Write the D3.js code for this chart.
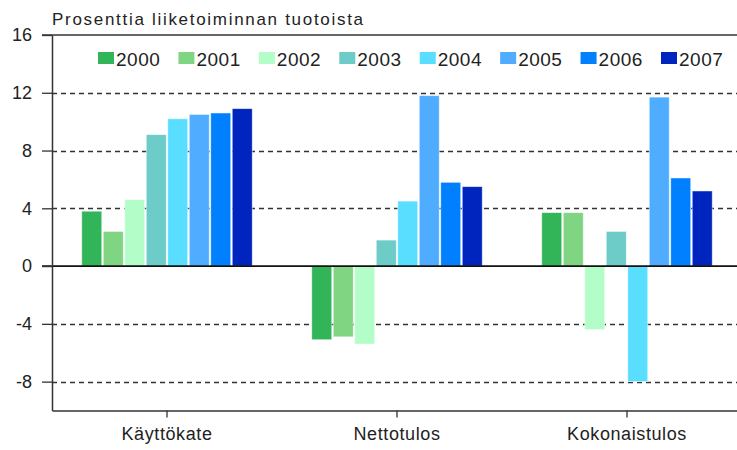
<!DOCTYPE html>
<html>
<head>
<meta charset="utf-8">
<script src="https://cdn.jsdelivr.net/npm/d3@7"></script>
<style>
  body { margin: 0; background: #fff; }
  text { font-family: "Liberation Sans", Arial, sans-serif; fill: #222; }
</style>
</head>
<body>
<svg id="chart" width="737" height="450"></svg>
<script>
// data
var categories = ["Käyttökate", "Nettotulos", "Kokonaistulos"];
var years = ["2000", "2001", "2002", "2003", "2004", "2005", "2006", "2007"];
var kayttokate = [3.8, 2.4, 4.6, 9.1, 10.2, 10.5, 10.6, 10.9];
var nettotulos = [-5.1, -4.9, -5.4, 1.8, 4.5, 11.8, 5.8, 5.5];
var kokonaistulos = [3.7, 3.7, -4.4, 2.4, -8.0, 11.7, 6.1, 5.2];
var yTicks = [-8, -4, 0, 4, 8, 12, 16];
var colors = ["#32b458", "#80d582", "#b3fdc9", "#6dcbc8", "#5adeff", "#50acff", "#0080ff", "#0024be"];
var titleText = "Prosenttia liiketoiminnan tuotoista";

var series = [kayttokate, nettotulos, kokonaistulos];

var svg = d3.select("#chart");
var plotLeft = 52, plotTop = 35, plotBottom = 410.5, plotRight = 742;

var y = d3.scaleLinear().domain([-10, 16]).range([plotBottom, plotTop]);
var x0 = d3.scaleBand().domain(categories).range([plotLeft, plotRight]);
var x1 = d3.scaleBand().domain(years).range([0, x0.bandwidth()])
			.paddingInner(0.07).paddingOuter(1.385);
var color = d3.scaleOrdinal().domain(years).range(colors);

// dashed grid lines
svg.append("g").selectAll("line")
	.data(yTicks.filter(function(d){ return d != 0 && d != 16; }))
	.enter().append("line")
	.attr("x1", plotLeft).attr("x2", 737)
	.attr("y1", function(d){ return Math.round(y(d)) + 0.5; })
	.attr("y2", function(d){ return Math.round(y(d)) + 0.5; })
	.attr("stroke", "#333")
	.attr("stroke-width", 1.3)
	.attr("stroke-dasharray", "5,4");

// top border
svg.append("line")
	.attr("x1", plotLeft - 10).attr("x2", 737)
	.attr("y1", y(16)).attr("y2", y(16))
	.attr("stroke", "#333").attr("stroke-width", 1.5);

// bars
var groups = svg.append("g").selectAll("g")
	.data(categories)
	.enter().append("g")
	.attr("transform", function(d){ return "translate(" + x0(d) + ",0)"; });

groups.selectAll("rect")
	.data(function(d, i){
		return years.map(function(yr, j){ return {year: yr, value: series[i][j]}; });
	})
	.enter().append("rect")
	.attr("x", function(d){ return x1(d.year); })
	.attr("width", x1.bandwidth())
	.attr("y", function(d){ return y(Math.max(0, d.value)); })
	.attr("height", function(d){ return Math.abs(y(d.value) - y(0)); })
	.attr("fill", function(d){ return color(d.year); })
	.attr("stroke", "rgba(255,255,255,0.6)")
	.attr("stroke-width", 0.8);

// zero line
svg.append("line")
	.attr("x1", plotLeft - 10).attr("x2", 737)
	.attr("y1", y(0)).attr("y2", y(0))
	.attr("stroke", "#111").attr("stroke-width", 1.8);

// y axis (plain hyphen for negatives, as in the original)
var yAxis = svg.append("g")
	.attr("transform", "translate(" + plotLeft + ",0)")
	.call(d3.axisLeft(y).tickValues(yTicks).tickFormat(function(d){ return String(d); })
		.tickSize(10).tickSizeOuter(0).tickPadding(10));
yAxis.select(".domain").attr("stroke", "#333").attr("stroke-width", 1.5);
yAxis.selectAll(".tick line").attr("stroke", "#333").attr("stroke-width", 1.3);
yAxis.selectAll("text")
	.style("font-size", "18px")
	.style("font-family", "Liberation Sans, Arial, sans-serif")
	.attr("fill", "#222");

// x axis
var xAxis = svg.append("g")
	.attr("transform", "translate(0," + plotBottom + ")")
	.call(d3.axisBottom(x0).tickSize(7).tickSizeOuter(0).tickPadding(10));
xAxis.select(".domain").attr("stroke", "#333").attr("stroke-width", 1.5);
xAxis.selectAll(".tick line").attr("stroke", "#333").attr("stroke-width", 1.3);
xAxis.selectAll("text")
	.style("font-size", "18px")
	.style("font-family", "Liberation Sans, Arial, sans-serif")
	.style("letter-spacing", "0.6px")
	.attr("fill", "#222");

// title
svg.append("text")
	.attr("x", plotLeft)
	.attr("y", 25)
	.style("font-size", "17px")
	.style("letter-spacing", "1.7px")
	.text(titleText);

// legend
var lx = d3.scaleLinear().domain([0, years.length - 1]).range([98, 661]);
var legend = svg.append("g").selectAll("g")
	.data(years)
	.enter().append("g")
	.attr("transform", function(d, i){ return "translate(" + lx(i) + ",52)"; });
legend.append("rect")
	.attr("width", 16).attr("height", 12)
	.attr("fill", function(d){ return color(d); });
legend.append("text")
	.attr("x", 18).attr("y", 13.5)
	.style("font-size", "19px")
	.style("letter-spacing", "0.5px")
	.text(function(d){ return d; });
</script>
</body>
</html>
